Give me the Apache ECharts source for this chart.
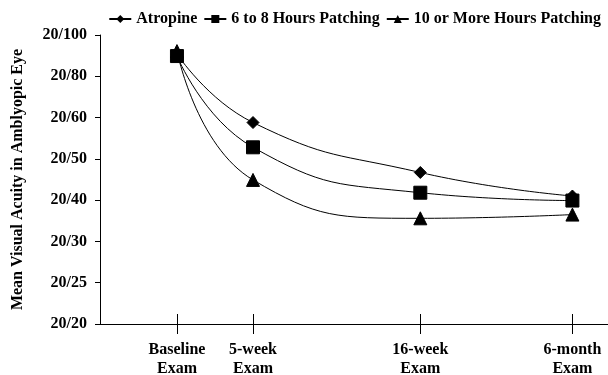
<!DOCTYPE html>
<html>
<head>
<meta charset="utf-8">
<script src="https://cdn.jsdelivr.net/npm/echarts@6/dist/echarts.min.js"></script>
<style>html,body{margin:0;padding:0;background:#fff;}#chart{width:608px;height:375px;}</style>
</head>
<body>
<div id="chart"></div>
<script>
// Exam times (weeks from baseline)
const examWeeks = [0, 5, 16, 26];
const examLabels = ['Baseline\nExam', '5-week\nExam', '16-week\nExam', '6-month\nExam'];
// Y tick labels, evenly spaced (index 0 = 20/20)
const acuityLabels = ['20/20', '20/25', '20/30', '20/40', '20/50', '20/60', '20/80', '20/100'];
// Mean acuity in tick-index units (0 = 20/20 ... 7 = 20/100)
const atropine = [6.54, 4.88, 3.67, 3.10];
const patch6to8 = [6.49, 4.28, 3.18, 2.99];
const patch10plus = [6.61, 3.49, 2.56, 2.65];

const font = '"Liberation Serif", "Times New Roman", serif';
const txt = {fontFamily: font, fontWeight: 'bold', color: '#000'};

function mk(name, vals, symbol, size) {
  return {
    name: name, type: 'line', smooth: 0.5,
    data: examWeeks.map((w, i) => [w, vals[i]]),
    symbol: symbol, symbolSize: size,
    lineStyle: {color: '#000', width: 1},
    itemStyle: {color: '#000', borderColor: '#000'},
    emphasis: {disabled: true},
    animation: false
  };
}

const chart = echarts.init(document.getElementById('chart'), null, {renderer: 'canvas'});
chart.setOption({
  backgroundColor: '#fff',
  animation: false,
  legend: {
    top: 6, right: 2, itemGap: 6, itemWidth: 22, itemHeight: 10,
    textStyle: Object.assign({fontSize: 16}, txt),
    data: ['Atropine', '6 to 8 Hours Patching', '10 or More Hours Patching']
  },
  grid: {left: 100, right: 0, top: 35, bottom: 51, outerBoundsMode: 'none', containLabel: false},
  xAxis: [
    {
      type: 'value', min: -5.06, max: 28.34,
      splitLine: {show: false},
      axisLine: {show: true, onZero: false, lineStyle: {color: '#000', width: 1}},
      axisTick: {show: true, length: 10, customValues: examWeeks, lineStyle: {color: '#000'}},
      axisLabel: Object.assign({
        fontSize: 16, lineHeight: 19, margin: 16,
        customValues: examWeeks,
        formatter: v => examLabels[examWeeks.indexOf(v)] || ''
      }, txt)
    },
    {
      type: 'value', min: -5.06, max: 28.34,
      position: 'bottom', offset: -10,
      splitLine: {show: false},
      axisLine: {show: false, onZero: false},
      axisTick: {show: true, length: 10, customValues: examWeeks, lineStyle: {color: '#000'}},
      axisLabel: {show: false}
    }
  ],
  yAxis: {
    type: 'value', min: 0, max: 7, interval: 1,
    name: 'Mean Visual Acuity in Amblyopic Eye',
    nameLocation: 'middle', nameGap: 74, nameRotate: 90,
    nameTextStyle: Object.assign({fontSize: 16}, txt),
    splitLine: {show: false},
    axisLine: {show: true, onZero: false, lineStyle: {color: '#000', width: 1}},
    axisTick: {show: true, length: 5, lineStyle: {color: '#000'}},
    axisLabel: Object.assign({fontSize: 16, margin: 13, formatter: v => acuityLabels[v] || ''}, txt)
  },
  series: [
    mk('Atropine', atropine, 'diamond', 12),
    mk('6 to 8 Hours Patching', patch6to8, 'rect', 13),
    mk('10 or More Hours Patching', patch10plus, 'triangle', 13)
  ]
});
</script>
</body>
</html>
